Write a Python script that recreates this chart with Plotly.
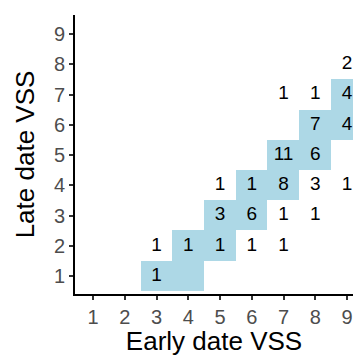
import numpy as np
import plotly.graph_objects as go

# Count table (Early date VSS, Late date VSS, count)
early = [3, 3, 4, 5, 6, 7, 5, 6, 7, 8, 5, 6, 7, 8, 9, 7, 8, 8, 9, 7, 8, 9, 9]
late  = [1, 2, 2, 2, 2, 2, 3, 3, 3, 3, 4, 4, 4, 4, 4, 5, 5, 6, 6, 7, 7, 7, 8]
count = [1, 1, 1, 1, 1, 1, 3, 6, 1, 1, 1, 1, 8, 3, 1, 11, 6, 7, 4, 1, 1, 4, 2]

# Highlighted band cells (early, late)
band_early = [3, 4, 4, 5, 5, 6, 6, 7, 7, 8, 8, 9, 9, 10]
band_late  = [1, 1, 2, 2, 3, 3, 4, 4, 5, 5, 6, 6, 7, 7]

tick_vals = [1, 2, 3, 4, 5, 6, 7, 8, 9]

xs = list(range(1, 11))
ys = list(range(1, 10))
z = np.full((len(ys), len(xs)), np.nan)
for bx, by in zip(band_early, band_late):
    z[ys.index(by), xs.index(bx)] = 1

FONT = "Liberation Sans, Arial, sans-serif"

fig = go.Figure()
fig.add_trace(go.Heatmap(x=xs, y=ys, z=z, colorscale=[[0, "#ADD8E6"], [1, "#ADD8E6"]],
                         showscale=False, hoverinfo="skip", xgap=0, ygap=0))
fig.add_trace(go.Scatter(x=early, y=late, mode="text", text=[str(c) for c in count],
                         textfont=dict(family=FONT, size=19, color="black"),
                         textposition="middle center", hoverinfo="skip"))

axis_common = dict(showgrid=False, zeroline=False, showline=True, linecolor="black", linewidth=2,
                   ticks="outside", ticklen=4, tickwidth=2, tickcolor="#333333",
                   tickfont=dict(family=FONT, size=20, color="#4d4d4d"),
                   tickvals=tick_vals)

fig.update_layout(
    width=353, height=356,
    margin=dict(l=75, r=0, t=15, b=62),
    plot_bgcolor="white", paper_bgcolor="white",
    showlegend=False,
    xaxis=dict(range=[0.43, 9.19], title=dict(text="Early date VSS", standoff=3,
               font=dict(family=FONT, size=26, color="black")), **axis_common),
    yaxis=dict(range=[0.405, 9.63], title=dict(text="Late date VSS", standoff=12,
               font=dict(family=FONT, size=26, color="black")), **axis_common),
)

fig.write_html("out.html")
